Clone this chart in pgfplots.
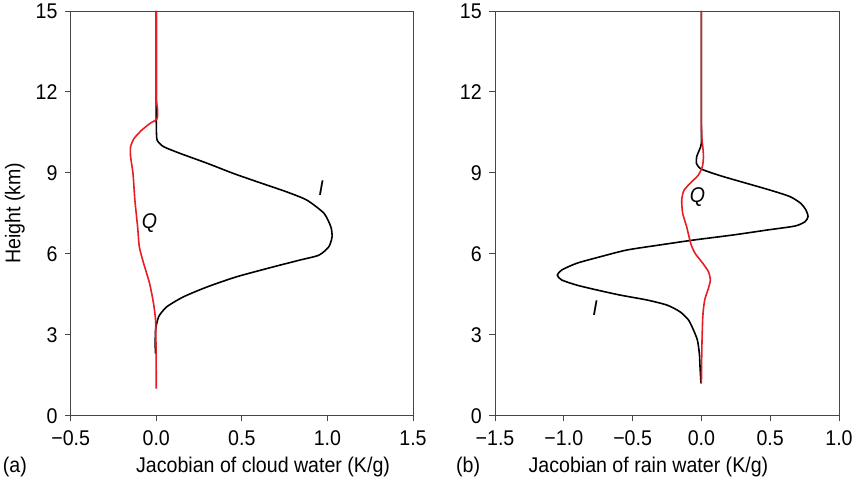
\documentclass[border=0pt]{standalone}
\usepackage{fontspec}
\setmainfont{Liberation Sans}[FakeStretch=0.92]
\usepackage{pgfplots}
\pgfplotsset{compat=1.18}
\definecolor{qred}{RGB}{230,30,36}
\definecolor{axgray}{RGB}{70,70,70}
\newcommand{\fs}{\fontsize{21.3bp}{25bp}\selectfont}
\pgfplotsset{
  jac/.style={
    scale only axis, height=404.7bp,
    ymin=0, ymax=15, ytick={0,3,6,9,12,15},
    tick align=outside, tick pos=left, major tick length=5.7bp,
    axis line style={line width=0.9pt, axgray},
    every tick/.style={line width=0.9pt, axgray},
    tick label style={font=\fs},
    yticklabel style={xshift=-4bp},
    xticklabel style={yshift=-6bp},
    /pgf/number format/assume math mode=true,
    clip=false,
  }
}
\begin{document}
\begin{tikzpicture}
\begin{axis}[jac, width=342.3bp, at={(70.7bp,68.3bp)}, anchor=south west,
  xmin=-0.5, xmax=1.5, xtick={-0.5,0,0.5,1,1.5},
  xticklabels={−0.5,0.0,0.5,1.0,1.5}]
\addplot[black, line width=1.6pt, smooth, tension=0.4] coordinates {
(0,15) (0,12) (0,11) (0.001,10.5) (0.006,10.2) (0.043,9.97) (0.14,9.72) (0.30,9.35) (0.45,8.98) (0.59,8.67) (0.76,8.30) (0.88,7.99) (0.98,7.50) (1.02,7.0) (1.027,6.63) (1.008,6.26) (0.95,5.95) (0.84,5.77) (0.686,5.52) (0.47,5.15) (0.30,4.78) (0.16,4.41) (0.062,4.04) (0.014,3.67) (-0.004,3.18) (-0.006,2.56) (-0.004,2.3)};
\addplot[qred, line width=1.6pt, smooth, tension=0.4] coordinates {
(0,15) (0,12) (0.002,11.6) (0.008,11.33) (0.004,11.0) (-0.035,10.84) (-0.084,10.59) (-0.129,10.28) (-0.15,9.97) (-0.15,9.6) (-0.136,8.98) (-0.125,7.99) (-0.109,7.0) (-0.099,6.26) (-0.074,5.65) (-0.039,4.9) (-0.016,4.16) (-0.004,3.55) (-0.003,3.05) (-0.001,2.4) (0,1.0)};
\node[font=\fs\itshape] at (axis cs:-0.039,7.15) {Q};
\node[font=\fs\itshape] at (axis cs:0.963,8.43) {I};
\node[font=\fs] at ([yshift=-51bp]rel axis cs:0.562,0) {Jacobian of cloud water (K/g)};
\node[font=\fs] at ([yshift=-51bp]rel axis cs:-0.163,0) {(a)};
\node[font=\fs, rotate=90] at (rel axis cs:-0.163,0.5) {Height (km)};
\end{axis}
\begin{axis}[jac, width=344bp, at={(495bp,68.3bp)}, anchor=south west,
  xmin=-1.5, xmax=1.0, xtick={-1.5,-1,-0.5,0,0.5,1},
  xticklabels={−1.5,−1.0,−0.5,0.0,0.5,1.0}]
\addplot[black, line width=1.6pt, smooth, tension=0.4] coordinates {
(0,15) (0,11) (0,10.1) (-0.015,9.85) (-0.034,9.6) (-0.036,9.35) (-0.01,9.17) (0.051,9.04) (0.16,8.86) (0.33,8.61) (0.50,8.36) (0.644,8.12) (0.722,7.87) (0.76,7.62) (0.775,7.38) (0.753,7.19) (0.68,7.03) (0.475,6.88) (0.233,6.70) (-0.058,6.51) (-0.30,6.33) (-0.543,6.14) (-0.736,5.89) (-0.906,5.65) (-1.015,5.40) (-1.047,5.21) (-1.015,5.03) (-0.906,4.84) (-0.76,4.66) (-0.59,4.47) (-0.397,4.29) (-0.25,4.10) (-0.155,3.85) (-0.094,3.55) (-0.058,3.18) (-0.029,2.80) (-0.015,2.31) (-0.01,1.82) (-0.003,1.2)};
\addplot[qred, line width=1.6pt, smooth, tension=0.4] coordinates {
(0,15) (0,11) (0.003,10.3) (0.01,9.97) (0.015,9.6) (0.007,9.23) (-0.022,8.92) (-0.07,8.67) (-0.126,8.36) (-0.143,7.99) (-0.136,7.5) (-0.107,7.0) (-0.078,6.39) (-0.046,6.02) (0.01,5.65) (0.051,5.34) (0.065,5.03) (0.051,4.72) (0.024,4.29) (0.01,3.67) (0.003,2.43) (0,1.2)};
\node[font=\fs\itshape] at (axis cs:-0.029,8.12) {Q};
\node[font=\fs\itshape] at (axis cs:-0.773,3.98) {I};
\node[font=\fs] at ([yshift=-51bp]rel axis cs:0.446,0) {Jacobian of rain water (K/g)};
\node[font=\fs] at ([yshift=-51bp]rel axis cs:-0.078,0) {(b)};
\end{axis}
\pgfresetboundingbox
\path[use as bounding box] (0,0) rectangle (856bp,484bp);
\end{tikzpicture}
\end{document}
